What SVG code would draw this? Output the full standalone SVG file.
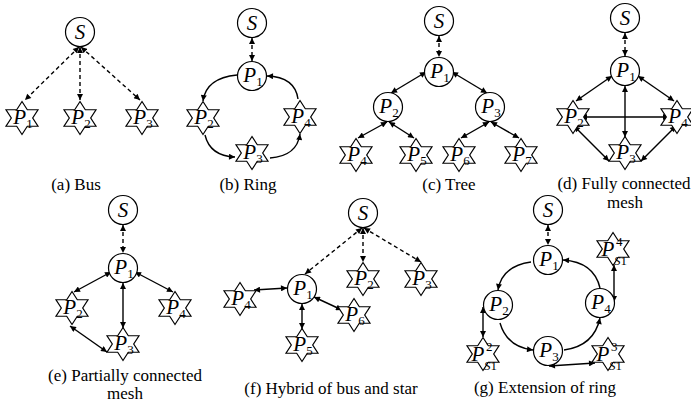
<svg xmlns="http://www.w3.org/2000/svg" width="691" height="404" viewBox="0 0 691 404" font-family="'Liberation Serif', 'Times New Roman', Times, 'DejaVu Serif', serif">
<style>
text{font-family:"Liberation Serif","Times New Roman",Times,"DejaVu Serif",serif;fill:#000}
.lbl{font-size:21px;font-style:italic;text-anchor:middle}
.sub{font-size:13px;font-style:normal}
.cap{font-size:17px;text-anchor:middle}
.nc{fill:#fff;stroke:#000;stroke-width:1.2}
.ln{fill:none;stroke:#000;stroke-width:1.4;marker-start:url(#ah);marker-end:url(#ah)}
.one{fill:none;stroke:#000;stroke-width:1.4;marker-end:url(#ah)}
.dash{stroke-dasharray:4 3}
</style>
<defs>
<marker id="ah" viewBox="0 0 10 10" refX="10" refY="5" markerWidth="7" markerHeight="6" orient="auto-start-reverse" markerUnits="userSpaceOnUse"><path d="M0,0 L10,5 L0,10 z" fill="#000"/></marker>
<path id="star" class="nc" d="M0,-16.5 L5.3,-8.25 L16,-8.25 L10.7,0 L16,8.25 L5.3,8.25 L0,16.5 L-5.3,8.25 L-16,8.25 L-10.7,0 L-16,-8.25 L-5.3,-8.25 Z"/>
<circle id="circ" class="nc" r="14.5"/>
</defs>

<g id="connectors">
<line class="ln dash" x1="79" y1="47" x2="25" y2="100"/>
<line class="ln dash" x1="80" y1="47" x2="80" y2="100"/>
<line class="ln dash" x1="81" y1="47" x2="140" y2="100"/>
<line class="ln dash" x1="252" y1="38" x2="252" y2="61"/>
<path class="one" d="M237,75 Q206,78 203,101"/>
<path class="one" d="M205,135 Q210,156 235,157"/>
<path class="one" d="M270,158 Q297,156 300,134"/>
<path class="one" d="M298,99 Q295,77 267,76"/>
<line class="ln dash" x1="439" y1="36" x2="439" y2="57"/>
<line class="ln" x1="426" y1="72" x2="391" y2="93"/>
<line class="ln" x1="452" y1="72" x2="487" y2="93"/>
<line class="ln" x1="387" y1="122" x2="358" y2="138"/>
<line class="ln" x1="389" y1="122" x2="414" y2="138"/>
<line class="ln" x1="489" y1="122" x2="461" y2="138"/>
<line class="ln" x1="491" y1="122" x2="519" y2="138"/>
<line class="ln dash" x1="625" y1="33" x2="625" y2="56"/>
<line class="ln" x1="612" y1="76" x2="576" y2="101"/>
<line class="ln" x1="638" y1="76" x2="674" y2="101"/>
<line class="ln" x1="625" y1="86" x2="625" y2="137"/>
<line class="ln" x1="581" y1="117" x2="669" y2="117"/>
<line class="ln" x1="574" y1="126" x2="609" y2="161"/>
<line class="ln" x1="676" y1="126" x2="641" y2="161"/>
<line class="ln dash" x1="123" y1="225" x2="123" y2="253"/>
<line class="ln" x1="111" y1="272" x2="74" y2="292"/>
<line class="ln" x1="135" y1="272" x2="173" y2="292"/>
<line class="ln" x1="123" y1="283" x2="123" y2="328"/>
<line class="ln" x1="70" y1="326" x2="107" y2="352"/>
<line class="ln dash" x1="362" y1="228" x2="305" y2="274"/>
<line class="ln dash" x1="363" y1="228" x2="363" y2="262"/>
<line class="ln dash" x1="364" y1="228" x2="421" y2="262"/>
<line class="ln" x1="254" y1="290" x2="287" y2="288"/>
<line class="ln" x1="302" y1="304" x2="302" y2="329"/>
<line class="ln" x1="314" y1="297" x2="342" y2="310"/>
<line class="ln dash" x1="548" y1="225" x2="548" y2="245"/>
<path class="one" d="M531,262 Q502,266 498,290"/>
<path class="one" d="M500,323 Q507,347 533,350"/>
<path class="one" d="M564,350 Q594,346 600,318"/>
<path class="one" d="M600,288 Q594,262 563,260"/>
<line class="ln" x1="483" y1="307" x2="483" y2="337"/>
<line class="ln" x1="614" y1="265" x2="614" y2="302"/>
<line class="ln" x1="549" y1="366" x2="595" y2="363"/>
</g>

<g id="a-S"><use href="#circ" x="80" y="32"/><text class="lbl" x="80" y="39">S</text></g>
<g id="a-P1"><use href="#star" x="22" y="118"/><text class="lbl" x="23" y="124">P<tspan class="sub" dy="4">1</tspan></text></g>
<g id="a-P2"><use href="#star" x="80" y="118"/><text class="lbl" x="81" y="124">P<tspan class="sub" dy="4">2</tspan></text></g>
<g id="a-P3"><use href="#star" x="142" y="118"/><text class="lbl" x="143" y="124">P<tspan class="sub" dy="4">3</tspan></text></g>
<text class="cap" x="76" y="190">(a) Bus</text>

<g id="b-S"><use href="#circ" x="252" y="23"/><text class="lbl" x="252" y="30">S</text></g>
<g id="b-P1"><use href="#circ" x="252" y="76"/><text class="lbl" x="253" y="82">P<tspan class="sub" dy="4">1</tspan></text></g>
<g id="b-P2"><use href="#star" x="203" y="118"/><text class="lbl" x="204" y="124">P<tspan class="sub" dy="4">2</tspan></text></g>
<g id="b-P3"><use href="#star" x="252" y="153"/><text class="lbl" x="253" y="159">P<tspan class="sub" dy="4">3</tspan></text></g>
<g id="b-P4"><use href="#star" x="300" y="117"/><text class="lbl" x="301" y="123">P<tspan class="sub" dy="4">4</tspan></text></g>
<text class="cap" x="248" y="190">(b) Ring</text>

<g id="c-S"><use href="#circ" x="439" y="21"/><text class="lbl" x="439" y="28">S</text></g>
<g id="c-P1"><use href="#circ" x="439" y="72"/><text class="lbl" x="440" y="78">P<tspan class="sub" dy="4">1</tspan></text></g>
<g id="c-P2"><use href="#circ" x="388" y="107"/><text class="lbl" x="389" y="113">P<tspan class="sub" dy="4">2</tspan></text></g>
<g id="c-P3"><use href="#circ" x="490" y="107"/><text class="lbl" x="491" y="113">P<tspan class="sub" dy="4">3</tspan></text></g>
<g id="c-P4"><use href="#star" x="356" y="155"/><text class="lbl" x="357" y="161">P<tspan class="sub" dy="4">4</tspan></text></g>
<g id="c-P5"><use href="#star" x="416" y="155"/><text class="lbl" x="417" y="161">P<tspan class="sub" dy="4">5</tspan></text></g>
<g id="c-P6"><use href="#star" x="459" y="155"/><text class="lbl" x="460" y="161">P<tspan class="sub" dy="4">6</tspan></text></g>
<g id="c-P7"><use href="#star" x="521" y="155"/><text class="lbl" x="522" y="161">P<tspan class="sub" dy="4">7</tspan></text></g>
<text class="cap" x="449" y="190">(c) Tree</text>

<g id="d-S"><use href="#circ" x="625" y="18"/><text class="lbl" x="625" y="25">S</text></g>
<g id="d-P1"><use href="#circ" x="625" y="71"/><text class="lbl" x="626" y="77">P<tspan class="sub" dy="4">1</tspan></text></g>
<g id="d-P2"><use href="#star" x="573" y="117"/><text class="lbl" x="574" y="123">P<tspan class="sub" dy="4">2</tspan></text></g>
<g id="d-P3"><use href="#star" x="625" y="153"/><text class="lbl" x="626" y="159">P<tspan class="sub" dy="4">3</tspan></text></g>
<g id="d-P4"><use href="#star" x="677" y="117"/><text class="lbl" x="678" y="123">P<tspan class="sub" dy="4">4</tspan></text></g>
<text class="cap" x="624" y="189">(d) Fully connected</text>
<text class="cap" x="625" y="208">mesh</text>

<g id="e-S"><use href="#circ" x="123" y="210"/><text class="lbl" x="123" y="217">S</text></g>
<g id="e-P1"><use href="#circ" x="123" y="268"/><text class="lbl" x="124" y="274">P<tspan class="sub" dy="4">1</tspan></text></g>
<g id="e-P2"><use href="#star" x="72" y="308"/><text class="lbl" x="73" y="314">P<tspan class="sub" dy="4">2</tspan></text></g>
<g id="e-P3"><use href="#star" x="123" y="344"/><text class="lbl" x="124" y="350">P<tspan class="sub" dy="4">3</tspan></text></g>
<g id="e-P4"><use href="#star" x="175" y="308"/><text class="lbl" x="176" y="314">P<tspan class="sub" dy="4">4</tspan></text></g>
<text class="cap" x="125" y="381">(e) Partially connected</text>
<text class="cap" x="125" y="399">mesh</text>

<g id="f-S"><use href="#circ" x="363" y="213"/><text class="lbl" x="363" y="220">S</text></g>
<g id="f-P1"><use href="#circ" x="302" y="289"/><text class="lbl" x="303" y="295">P<tspan class="sub" dy="4">1</tspan></text></g>
<g id="f-P2"><use href="#star" x="363" y="279"/><text class="lbl" x="364" y="285">P<tspan class="sub" dy="4">2</tspan></text></g>
<g id="f-P3"><use href="#star" x="421" y="279"/><text class="lbl" x="422" y="285">P<tspan class="sub" dy="4">3</tspan></text></g>
<g id="f-P4"><use href="#star" x="240" y="299"/><text class="lbl" x="241" y="305">P<tspan class="sub" dy="4">4</tspan></text></g>
<g id="f-P5"><use href="#star" x="302" y="345"/><text class="lbl" x="303" y="351">P<tspan class="sub" dy="4">5</tspan></text></g>
<g id="f-P6"><use href="#star" x="354" y="315"/><text class="lbl" x="355" y="321">P<tspan class="sub" dy="4">6</tspan></text></g>
<text class="cap" x="331" y="394">(f) Hybrid of bus and star</text>

<g id="g-S"><use href="#circ" x="548" y="210"/><text class="lbl" x="548" y="217">S</text></g>
<g id="g-P1"><use href="#circ" x="548" y="260"/><text class="lbl" x="549" y="266">P<tspan class="sub" dy="4">1</tspan></text></g>
<g id="g-P2"><use href="#circ" x="498" y="305"/><text class="lbl" x="499" y="311">P<tspan class="sub" dy="4">2</tspan></text></g>
<g id="g-P3"><use href="#circ" x="548" y="351"/><text class="lbl" x="549" y="357">P<tspan class="sub" dy="4">3</tspan></text></g>
<g id="g-P4"><use href="#circ" x="600" y="303"/><text class="lbl" x="601" y="309">P<tspan class="sub" dy="4">4</tspan></text></g>
<g id="g-PS4"><use href="#star" x="613" y="249"/><text class="lbl" x="608" y="256">P</text><text class="sub" x="616" y="246">4</text><text class="sub" x="614" y="265"><tspan font-style="italic">S</tspan>1</text></g>
<g id="g-PS2"><use href="#star" x="483" y="354"/><text class="lbl" x="478" y="361">P</text><text class="sub" x="486" y="351">2</text><text class="sub" x="484" y="370"><tspan font-style="italic">S</tspan>1</text></g>
<g id="g-PS3"><use href="#star" x="608" y="354"/><text class="lbl" x="603" y="361">P</text><text class="sub" x="611" y="351">3</text><text class="sub" x="609" y="370"><tspan font-style="italic">S</tspan>1</text></g>
<text class="cap" x="545" y="393">(g) Extension of ring</text>
</svg>
